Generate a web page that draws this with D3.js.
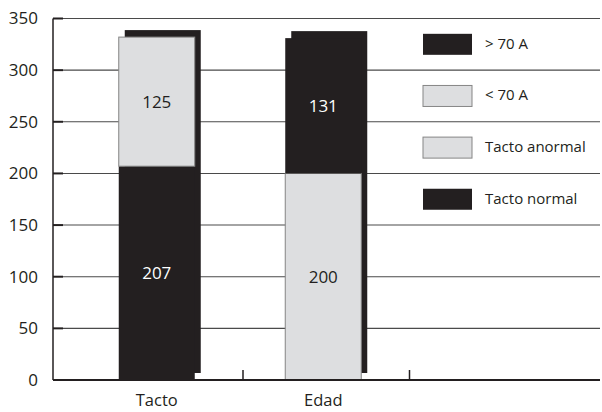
<!DOCTYPE html>
<html>
<head>
<meta charset="utf-8">
<script src="https://cdn.jsdelivr.net/npm/d3@7"></script>
<style>
  html, body { margin: 0; padding: 0; background: #fff; }
  svg { display: block; font-family: "Open Sans", "Liberation Sans", Arial, sans-serif; }
</style>
</head>
<body>
<svg id="chart" width="602" height="412"></svg>
<script>
// Categories and stacked series values
const categories = ["Tacto", "Edad"];
const tactoNormal  = [207, 0];
const tactoAnormal = [125, 0];
const menor70      = [0, 200];
const mayor70      = [0, 131];
const yTicks = [0, 50, 100, 150, 200, 250, 300, 350];

// Legend entries (top to bottom)
const legendLabels = ["> 70 A", "< 70 A", "Tacto anormal", "Tacto normal"];
const legendKeys = ["mayor70", "menor70", "tactoAnormal", "tactoNormal"];

const DARK = "#231f20";
const LIGHT = "#dddee0";
const TEXT = "#231f20";
const fillFor = { tactoNormal: DARK, tactoAnormal: LIGHT, menor70: LIGHT, mayor70: DARK };

const rows = categories.map((c, i) => ({
  cat: c,
  tactoNormal: tactoNormal[i],
  tactoAnormal: tactoAnormal[i],
  menor70: menor70[i],
  mayor70: mayor70[i]
}));
const stackKeys = ["tactoNormal", "tactoAnormal", "menor70", "mayor70"];
const stacked = d3.stack().keys(stackKeys)(rows);

const svg = d3.select("#chart");
const plotLeft = 53, plotRight = 600, plotBottom = 380, plotTop = 18.5;

const y = d3.scaleLinear().domain([0, 350]).range([plotBottom, plotTop]);
const x = d3.scaleBand().domain(categories).range([76.5, 409.5])
  .paddingInner(0.5075).paddingOuter(0.5075 / 2);
const shadowOff = 6;
const frontW = x.bandwidth() - shadowOff;
const total = d => d.tactoNormal + d.tactoAnormal + d.menor70 + d.mayor70;

// Gridlines
svg.append("g").selectAll("line").data(yTicks.filter(d => d > 0)).join("line")
  .attr("x1", plotLeft + 10).attr("x2", plotRight)
  .attr("y1", d => y(d)).attr("y2", d => y(d))
  .attr("stroke", "#4a4a4a").attr("stroke-width", 1.1);

// Inward ticks on the value axis
svg.append("g").selectAll("line").data(yTicks.filter(d => d > 0)).join("line")
  .attr("x1", plotLeft).attr("x2", plotLeft + 10)
  .attr("y1", d => y(d)).attr("y2", d => y(d))
  .attr("stroke", DARK).attr("stroke-width", 2);

// Value axis labels
const yAxis = svg.append("g").attr("transform", `translate(${plotLeft},0)`)
  .call(d3.axisLeft(y).tickValues(yTicks).tickSize(0).tickPadding(15).tickFormat(d3.format("d")));
yAxis.select(".domain").remove();
yAxis.selectAll("text").attr("font-size", 17).attr("fill", TEXT)
  .attr("font-family", "Open Sans, Liberation Sans, Arial, sans-serif");

// Value axis line
svg.append("line").attr("x1", plotLeft).attr("x2", plotLeft)
  .attr("y1", y(350)).attr("y2", plotBottom)
  .attr("stroke", DARK).attr("stroke-width", 1.5);

// Bar shadows
svg.append("g").selectAll("rect").data(rows).join("rect")
  .attr("x", d => x(d.cat) + shadowOff)
  .attr("width", frontW)
  .attr("y", d => y(total(d)) - shadowOff - 1)
  .attr("height", d => y(0) - y(total(d)))
  .attr("fill", DARK);

// Stacked segments with their value labels
stacked.forEach(layer => {
  const key = layer.key;
  const segs = layer.filter(s => s[1] > s[0]);
  svg.append("g").selectAll("rect").data(segs).join("rect")
    .attr("x", s => x(s.data.cat))
    .attr("width", frontW)
    .attr("y", s => y(s[1]))
    .attr("height", s => y(s[0]) - y(s[1]))
    .attr("fill", fillFor[key])
    .attr("stroke", fillFor[key] === LIGHT ? "#858585" : "none")
    .attr("stroke-width", 1);

  svg.append("g").selectAll("text").data(segs).join("text")
    .attr("x", s => x(s.data.cat) + frontW / 2)
    .attr("y", s => (y(s[0]) + y(s[1])) / 2)
    .attr("dy", "0.35em")
    .attr("text-anchor", "middle")
    .attr("font-size", 17)
    .attr("fill", fillFor[key] === DARK ? "#fff" : TEXT)
    .text(s => s[1] - s[0]);
});

// Category axis line and ticks
svg.append("line").attr("x1", plotLeft).attr("x2", plotRight)
  .attr("y1", plotBottom).attr("y2", plotBottom)
  .attr("stroke", DARK).attr("stroke-width", 2);
const boundaries = categories.map(c => x(c) + x.bandwidth() / 2 + x.step() / 2);
svg.append("g").selectAll("line").data(boundaries).join("line")
  .attr("x1", d => d).attr("x2", d => d)
  .attr("y1", plotBottom - 10).attr("y2", plotBottom)
  .attr("stroke", DARK).attr("stroke-width", 1.5);

// Category labels
svg.append("g").selectAll("text").data(categories).join("text")
  .attr("x", c => x(c) + frontW / 2)
  .attr("y", 406)
  .attr("text-anchor", "middle")
  .attr("font-size", 16.5)
  .attr("fill", TEXT)
  .text(c => c);

// Legend, one entry between each pair of upper gridlines
const legendY = legendKeys.map((k, i) => (y(350 - 50 * i) + y(300 - 50 * i)) / 2);
const lg = svg.append("g");
legendKeys.forEach((k, i) => {
  lg.append("rect")
    .attr("x", 423).attr("y", legendY[i] - 10.5)
    .attr("width", 49).attr("height", 21)
    .attr("fill", fillFor[k])
    .attr("stroke", fillFor[k] === LIGHT ? "#858585" : "none")
    .attr("stroke-width", 1);
  lg.append("text")
    .attr("x", 485).attr("y", legendY[i])
    .attr("dy", "0.3em")
    .attr("font-size", 15)
    .attr("fill", TEXT)
    .text(legendLabels[i]);
});
</script>
</body>
</html>
